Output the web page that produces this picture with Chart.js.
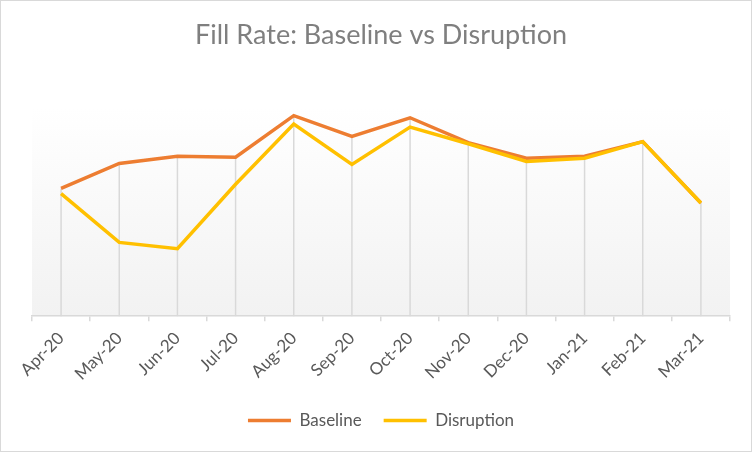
<!DOCTYPE html>
<html lang="en">
<head>
    <meta charset="UTF-8" />
    <title>Fill Rate: Baseline vs Disruption</title>
    <script src="https://cdn.jsdelivr.net/npm/chart.js"></script>
    <style>
        html, body { margin: 0; padding: 0; background: #fff; }
        .chart-box { width: 752px; height: 452px; box-sizing: border-box; border: 1px solid #d9d9d9; }
    </style>
</head>
<body>
    <div class="chart-box">
        <canvas id="fillChart" width="750" height="450"></canvas>
    </div>
    <script>
    // data (fill rate, %)
    const months = ['Apr-20', 'May-20', 'Jun-20', 'Jul-20', 'Aug-20', 'Sep-20',
                    'Oct-20', 'Nov-20', 'Dec-20', 'Jan-21', 'Feb-21', 'Mar-21'];
    const baseline = [92.3, 94.7, 95.4, 95.3, 99.3, 97.3, 99.1, 96.7, 95.2, 95.4, 96.8, 90.9];
    const disruption = [91.8, 87.1, 86.5, 92.7, 98.5, 94.6, 98.2, 96.6, 94.9, 95.2, 96.8, 90.9];

    // plot area gradient, like the excel chart
    const plotBackground = {
        id: 'plotBackground',
        beforeDraw(chart) {
            const { ctx, chartArea: a } = chart;
            const g = ctx.createLinearGradient(0, a.top, 0, a.bottom);
            g.addColorStop(0, '#ffffff');
            g.addColorStop(1, '#f2f2f2');
            ctx.save();
            ctx.fillStyle = g;
            ctx.fillRect(a.left, a.top, a.right - a.left, a.bottom - a.top);
            ctx.restore();
        }
    };

    // drop lines from the highest point down to the axis
    const dropLines = {
        id: 'dropLines',
        beforeDatasetsDraw(chart) {
            const { ctx, scales: { x, y } } = chart;
            ctx.save();
            ctx.strokeStyle = '#d9d9d9';
            ctx.lineWidth = 1.5;
            months.forEach((m, i) => {
                const top = Math.max(baseline[i], disruption[i]);
                const px = x.getPixelForValue(i);
                ctx.beginPath();
                ctx.moveTo(px, y.getPixelForValue(top));
                ctx.lineTo(px, y.bottom);
                ctx.stroke();
            });
            ctx.restore();
        }
    };

    const ctx = document.getElementById('fillChart').getContext('2d');
    new Chart(ctx, {
        type: 'line',
        data: {
            labels: months,
            datasets: [{
                label: 'Baseline',
                data: baseline,
                borderColor: '#ED7D31',
                backgroundColor: '#ED7D31',
                borderWidth: 3.5,
                pointRadius: 0,
                tension: 0,
                order: 2
            }, {
                label: 'Disruption',
                data: disruption,
                borderColor: '#FFC000',
                backgroundColor: '#FFC000',
                borderWidth: 3.5,
                pointRadius: 0,
                tension: 0,
                order: 1
            }]
        },
        options: {
            responsive: false,
            animation: false,
            layout: { padding: { left: 31, right: 21, top: 0, bottom: 12 } },
            plugins: {
                title: {
                    display: true,
                    text: 'Fill Rate: Baseline vs Disruption',
                    color: '#7f7f7f',
                    font: { family: 'Lato', size: 27, weight: 'normal' },
                    padding: { top: 18, bottom: 57 }
                },
                legend: {
                    position: 'bottom',
                    labels: {
                        color: '#595959',
                        font: { family: 'Lato', size: 17 },
                        usePointStyle: true,
                        pointStyle: 'line',
                        pointStyleWidth: 43,
                        boxHeight: 17,
                        padding: 22,
                        sort: (a, b) => a.datasetIndex - b.datasetIndex
                    }
                },
                tooltip: { enabled: false }
            },
            scales: {
                x: {
                    offset: true,
                    grid: {
                        offset: true,
                        drawOnChartArea: false,
                        color: '#d9d9d9',
                        lineWidth: 1.5,
                        tickLength: 5
                    },
                    border: { color: '#d9d9d9', width: 1.5 },
                    ticks: {
                        color: '#595959',
                        font: { family: 'Lato', size: 17 },
                        minRotation: 45,
                        maxRotation: 45,
                        padding: 7
                    },
                    afterFit(scale) { scale.height -= 1; }
                },
                y: {
                    display: false,
                    min: 80,
                    max: 100
                }
            }
        },
        plugins: [plotBackground, dropLines]
    });
    </script>
</body>
</html>
